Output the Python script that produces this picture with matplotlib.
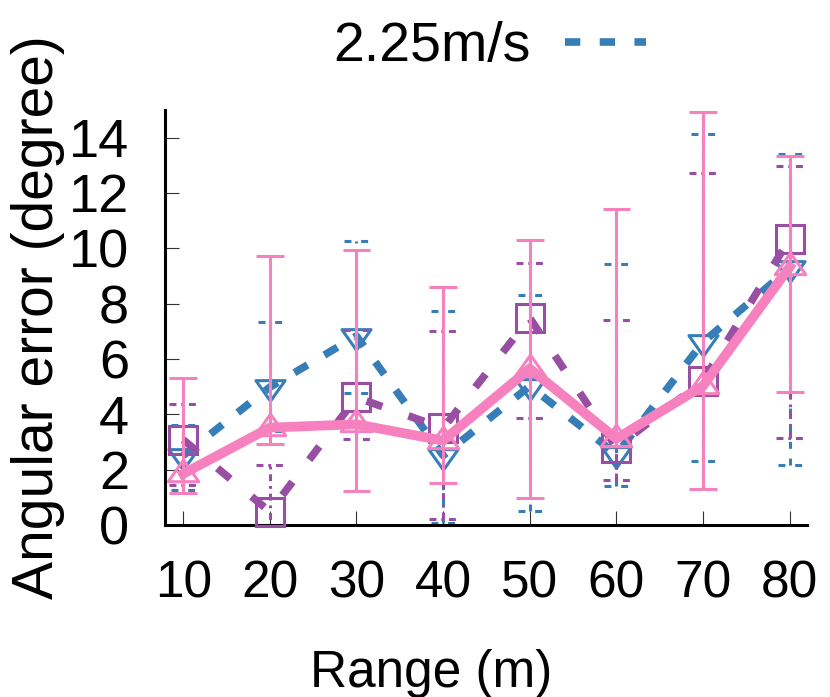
import matplotlib
matplotlib.use("Agg")
import matplotlib.pyplot as plt
import numpy as np
from matplotlib.lines import Line2D
from matplotlib.markers import MarkerStyle
from matplotlib.path import Path
from matplotlib.font_manager import FontProperties

plt.rcParams['lines.scale_dashes'] = False

# data
ranges = [10, 20, 30, 40, 50, 60, 70, 80]

blue_mean = [2.51, 4.98, 6.83, 2.51, 5.02, 2.55, 6.61, 9.29]
blue_low = [1.27, 3.40, 4.76, 0.08, 0.50, 1.41, 2.31, 2.17]
blue_high = [3.63, 7.32, 10.25, 7.72, 8.30, 9.43, 14.13, 13.41]

purple_mean = [3.08, 0.48, 4.61, 3.50, 7.48, 2.80, 5.22, 10.35]
purple_low = [1.45, -0.50, 3.10, 0.20, 3.86, 1.63, 4.72, 3.14]
purple_high = [4.38, 2.17, 7.05, 7.02, 9.47, 7.42, 12.72, 12.96]

pink_mean = [1.85, 3.52, 3.64, 3.05, 5.65, 3.12, 5.03, 9.33]
pink_low = [1.15, 2.92, 1.23, 1.51, 0.99, 2.85, 1.30, 4.80]
pink_high = [5.33, 9.71, 9.95, 8.60, 10.29, 11.43, 14.92, 13.33]

legend_label = '2.25m/s'

blue = '#377eb8'
purple = '#984ea3'
pink = '#f781bf'

font = ['Liberation Sans', 'DejaVu Sans']

tri_down = MarkerStyle(Path([(-1, 0.47), (1, 0.47), (0, -0.94), (-1, 0.47)], closed=True), joinstyle='miter')
tri_up = MarkerStyle(Path([(-1, -0.47), (1, -0.47), (0, 0.94), (-1, -0.47)], closed=True), joinstyle='miter')
square = MarkerStyle('s', joinstyle='miter')


def draw_series(ax, x, mean, low, high, color, lw, dashes, err_style, marker, ms, cap_half, z):
    x = np.asarray(x, dtype=float)
    ax.vlines(x, low, high, colors=color, linewidth=2.2, linestyles=err_style, zorder=z)
    ax.hlines(low, x - cap_half, x + cap_half, colors=color, linewidth=2.2, linestyles=err_style, zorder=z)
    ax.hlines(high, x - cap_half, x + cap_half, colors=color, linewidth=2.2, linestyles=err_style, zorder=z)
    if dashes is None:
        ax.plot(x, mean, color=color, lw=lw, solid_joinstyle='miter', zorder=z + 0.1)
    else:
        ax.plot(x, mean, color=color, lw=lw, dashes=dashes, zorder=z + 0.1)
    ax.plot(x, mean, ls='none', marker=marker, ms=ms, mfc='none', mec=color, mew=2.2,
            clip_on=False, zorder=z + 0.2)


fig = plt.figure(figsize=(8.3, 6.97), dpi=100)
ax = fig.add_axes([0.1988, 0.2468, 0.7735, 0.5954])

draw_series(ax, ranges, blue_mean, blue_low, blue_high, blue, 5.5, (11, 14),
            (0, (5, 7)), tri_down, 21, 1.4, 2)
draw_series(ax, ranges, purple_mean, purple_low, purple_high, purple, 5.5, (12, 20),
            (0, (5, 3.5, 2, 3.5)), square, 19.5, 1.6, 3)
draw_series(ax, ranges, pink_mean, pink_low, pink_high, pink, 7, None,
            'solid', tri_up, 22, 1.6, 4)

ax.set_xlim(7.9, 82.0)
ax.set_ylim(0, 15)
ax.set_xticks(ranges)
ax.set_yticks(range(0, 15, 2))
for s in ['top', 'right']:
    ax.spines[s].set_visible(False)
for s in ['left', 'bottom']:
    ax.spines[s].set_linewidth(2.2)
ax.tick_params(direction='in', length=10, width=0.8, color='#333333')
ax.tick_params(axis='x', pad=25)
ax.tick_params(axis='y', pad=26)
for t in ax.get_xticklabels():
    t.set_fontfamily(font)
    t.set_fontsize(37)
for t in ax.get_yticklabels():
    t.set_fontfamily(font)
    t.set_fontsize(39)

ax.set_xlabel('Range (m)', fontfamily=font, fontsize=37)
ax.xaxis.set_label_coords(0.414, -0.30)
ax.set_ylabel('Angular error (degree)', fontfamily=font, fontsize=41)
ax.yaxis.set_label_coords(-0.155, 0.5)

handle = Line2D([], [], color=blue, lw=5.5, dashes=(11, 14))
fig.legend(handles=[handle], labels=[legend_label], loc='center left',
           bbox_to_anchor=(333 / 830, 1 - 47 / 697), frameon=False, markerfirst=False,
           handlelength=1.46, handletextpad=0.63, borderpad=0, borderaxespad=0,
           prop=FontProperties(family=font, size=40))

fig.savefig('out.png', dpi=100)
